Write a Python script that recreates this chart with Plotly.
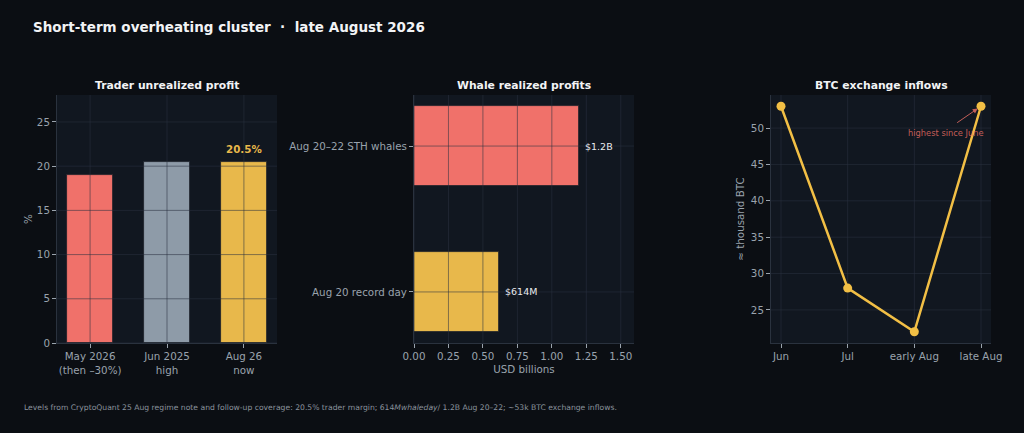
import plotly.graph_objects as go

# ---- data ----
profit_labels = ["May 2026<br>(then –30%)", "Jun 2025<br>high", "Aug 26<br>now"]
profit_values = [19.0, 20.5, 20.5]
profit_colors = ["#f0716a", "#8e9ba8", "#e8b84b"]
profit_ticks = [0, 5, 10, 15, 20, 25]

whale_labels = ["Aug 20 record day", "Aug 20–22 STH whales"]
whale_values = [0.614, 1.2]
whale_text = ["$614M", "$1.2B"]
whale_colors = ["#e8b84b", "#f0716a"]
whale_ticks = [0, 0.25, 0.5, 0.75, 1.0, 1.25, 1.5]

inflow_periods = ["Jun", "Jul", "early Aug", "late Aug"]
inflow_values = [53, 28, 22, 53]
inflow_ticks = [25, 30, 35, 40, 45, 50]

BG = "#0b0e13"
PANEL = "#111720"
TICK = "#9aa3ad"
SPINE = "#2a323e"
GRID = "rgba(42,50,64,0.55)"
FONT = "DejaVu Sans"

Y_DOM = [1 - 343 / 433, 1 - 95 / 433]
X_DOMS = [[57 / 1024, 277 / 1024], [414 / 1024, 634 / 1024], [771 / 1024, 991 / 1024]]


def axis_style(**kw):
    d = dict(
        showgrid=False, zeroline=False, showline=True, linecolor=SPINE, linewidth=1,
        ticks="outside", ticklen=4, tickcolor=TICK, tickwidth=1, automargin=False,
        tickfont=dict(family=FONT, size=10.3, color=TICK), mirror=False,
    )
    d.update(kw)
    return d


fig = go.Figure()

# panel 1: trader unrealized profit
fig.add_trace(go.Bar(
    x=profit_labels, y=profit_values, marker=dict(color=profit_colors, line=dict(color="#1a1f27", width=0.8)),
    width=0.6, xaxis="x", yaxis="y", showlegend=False, hoverinfo="skip",
))

# panel 2: whale realized profits
fig.add_trace(go.Bar(
    y=whale_labels, x=whale_values, orientation="h",
    marker=dict(color=whale_colors, line=dict(color="#1a1f27", width=0.8)),
    width=0.55, xaxis="x2", yaxis="y2", showlegend=False, hoverinfo="skip",
))

# panel 3: BTC exchange inflows
fig.add_trace(go.Scatter(
    x=inflow_periods, y=inflow_values, mode="lines+markers",
    line=dict(color="#f2bf45", width=2.5), marker=dict(size=9, color="#f2bf45"),
    xaxis="x3", yaxis="y3", showlegend=False, hoverinfo="skip", cliponaxis=False,
))

# gridlines drawn above the bars (as in the reference)
shapes = []
for t in profit_ticks:
    shapes.append(dict(type="line", xref="x domain", yref="y", x0=0, x1=1, y0=t, y1=t))
for c in profit_labels:
    shapes.append(dict(type="line", xref="x", yref="y domain", x0=c, x1=c, y0=0, y1=1))
for t in whale_ticks:
    shapes.append(dict(type="line", xref="x2", yref="y2 domain", x0=t, x1=t, y0=0, y1=1))
for c in whale_labels:
    shapes.append(dict(type="line", xref="x2 domain", yref="y2", x0=0, x1=1, y0=c, y1=c))
for t in inflow_ticks:
    shapes.append(dict(type="line", xref="x3 domain", yref="y3", x0=0, x1=1, y0=t, y1=t, layer="below"))
for c in inflow_periods:
    shapes.append(dict(type="line", xref="x3", yref="y3 domain", x0=c, x1=c, y0=0, y1=1, layer="below"))
for s in shapes:
    s.setdefault("layer", "above")
    s["line"] = dict(color=GRID, width=1)

annotations = [
    dict(text="<b>Short-term overheating cluster  ·  late August 2026</b>", xref="paper", yref="paper",
         x=31 / 1024, y=1 - 27 / 433, xanchor="left", yanchor="middle", showarrow=False,
         font=dict(family=FONT, size=13.5, color="#f2f3f5")),
    dict(text="Levels from CryptoQuant 25 Aug regime note and follow-up coverage: 20.5% trader margin; "
              "614<i>Mwhaleday</i>/ 1.2B Aug 20–22; ∼53k BTC exchange inflows.",
         xref="paper", yref="paper", x=22 / 1024, y=1 - 407 / 433, xanchor="left", yanchor="middle",
         showarrow=False, font=dict(family=FONT, size=7.65, color="#8a929c")),
    dict(text=f"<b>{profit_values[2]}%</b>", xref="x", yref="y", x=profit_labels[2], y=profit_values[2],
         yanchor="bottom", yshift=5, showarrow=False, font=dict(family=FONT, size=10.3, color="#e8b84b")),
    dict(text="highest since June", xref="x3", yref="y3", x=2.48, y=49.3,
         showarrow=False, font=dict(family=FONT, size=8.3, color="rgba(240,113,103,0.8)")),
    dict(text="", xref="x3", yref="y3", x=inflow_periods[3], y=inflow_values[3], axref="x3", ayref="y3",
         ax=2.62, ay=50.6, showarrow=True, arrowhead=2, arrowsize=1, arrowwidth=1,
         arrowcolor="rgba(240,113,103,0.8)", standoff=4),
]
for lab, val, txt in zip(whale_labels, whale_values, whale_text):
    annotations.append(dict(text=txt, xref="x2", yref="y2", x=val, y=lab, xanchor="left", xshift=4,
                            showarrow=False, font=dict(family=FONT, size=9.5, color="#e8eaed")))
for title, dom in zip(["Trader unrealized profit", "Whale realized profits", "BTC exchange inflows"], X_DOMS):
    annotations.append(dict(text=f"<b>{title}</b>", xref="paper", yref="paper", x=(dom[0] + dom[1]) / 2,
                            y=1 - 86 / 433, xanchor="center", yanchor="middle", showarrow=False,
                            font=dict(family=FONT, size=10.8, color="#f2f3f5")))

fig.update_layout(
    width=1024, height=433, margin=dict(l=0, r=0, t=0, b=0),
    paper_bgcolor=BG, plot_bgcolor=PANEL, bargap=0,
    font=dict(family=FONT, color=TICK),
    xaxis=axis_style(domain=X_DOMS[0], anchor="y", type="category", range=[-0.43, 2.43]),
    yaxis=axis_style(domain=Y_DOM, anchor="x", range=[0, 28.05], tickvals=profit_ticks,
                     title=dict(text="%", font=dict(family=FONT, size=10.3, color=TICK), standoff=2)),
    xaxis2=axis_style(domain=X_DOMS[1], anchor="y2", range=[0, 1.596], tickvals=whale_ticks,
                      tickformat=".2f",
                      title=dict(text="USD billions", font=dict(family=FONT, size=10.3, color=TICK), standoff=4)),
    yaxis2=axis_style(domain=Y_DOM, anchor="x2", type="category", range=[-0.35, 1.35]),
    xaxis3=axis_style(domain=X_DOMS[2], anchor="y3", type="category", range=[-0.15, 3.15]),
    yaxis3=axis_style(domain=Y_DOM, anchor="x3", range=[20.45, 54.55], tickvals=inflow_ticks,
                      title=dict(text="≈ thousand BTC", font=dict(family=FONT, size=10.3, color=TICK), standoff=4)),
    shapes=shapes, annotations=annotations,
)

fig.write_html(
    "out.html",
    config={"displayModeBar": False},
    post_script="document.body.style.margin='0';document.body.style.overflow='hidden';",
)
